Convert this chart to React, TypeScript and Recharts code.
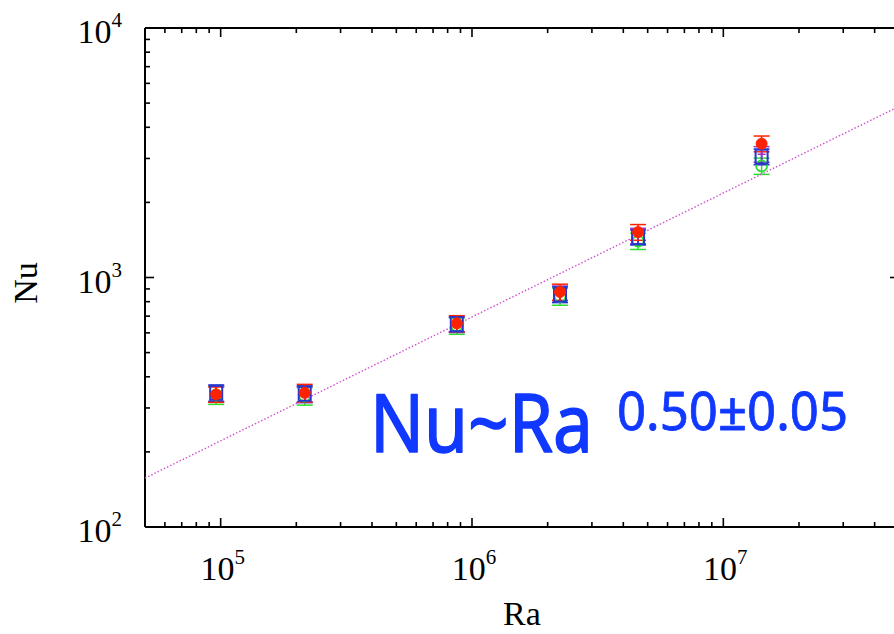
import React from 'react';
import { ErrorBar, Scatter, ScatterChart, XAxis, YAxis } from 'recharts';

const RA = [9.6e4, 2.16e5, 8.7e5, 2.24e6, 4.58e6, 1.42e7];
const NU_RED = [340, 345, 655, 875, 1520, 3440];
const NU_BLUE = [345, 342, 650, 855, 1450, 3050];
const NU_GREEN = [338, 335, 640, 840, 1400, 2800];
const NU_PURPLE = [342, 340, 648, 860, 1470, 3120];

const ERR_RED = [24, 28, 48, 65, 110, 250];
const ERR_BLUE = [26, 26, 45, 62, 100, 220];
const ERR_GREEN = [28, 27, 48, 66, 105, 210];
const ERR_PURPLE = [25, 25, 46, 64, 104, 225];

// Fit line Nu ~ Ra^0.5, end points read at the plot edges.
const FIT_RA = [5e4, 5e7];
const FIT_NU = [157, 4850];

const X_DOMAIN = [5e4, 5e7];
const Y_DOMAIN = [100, 10000];
const X_MAJOR = [1e5, 1e6, 1e7];
const Y_MAJOR = [1e2, 1e3, 1e4];
const MANTISSA = [2, 3, 4, 5, 6, 7, 8, 9];

const X_TICKS = [5e4, 6e4, 7e4, 8e4, 9e4, ...X_MAJOR, ...X_MAJOR.flatMap((d) => MANTISSA.map((m) => m * d))].filter(
  (v) => v >= X_DOMAIN[0] && v <= X_DOMAIN[1],
);
const Y_TICKS = [...Y_MAJOR, ...[1e2, 1e3].flatMap((d) => MANTISSA.map((m) => m * d))];

const RED = '#ff2200';
const BLUE = '#2636d0';
const GREEN = '#2edc2e';
const PURPLE = '#9a35c8';
const FIT = '#d050d0';
const NOTE = '#1038ff';
const SERIF = { fontFamily: "'Liberation Serif', 'Times New Roman', Times, serif" };
const SANS = { fontFamily: 'Noto Sans, DejaVu Sans, sans-serif' };

const rows = (nu: number[], err: number[]) => RA.map((ra, i) => ({ ra, nu: nu[i], err: err[i] }));
const fitRows = FIT_RA.map((ra, i) => ({ ra, nu: FIT_NU[i] }));

const isMajor = (v: number) => Math.abs(Math.log10(v) - Math.round(Math.log10(v))) < 1e-9;

function Pow({ x, y, exp, anchor }: { x: number; y: number; exp: number; anchor: 'middle' | 'end' }) {
  return (
    <text x={x} y={y} textAnchor={anchor} style={SERIF} fontSize={34} fill="#000">
      10
      <tspan dy={-16} fontSize={21}>
        {exp}
      </tspan>
    </text>
  );
}

function BottomTick({ x, y, payload }: any) {
  const major = isMajor(payload.value);
  return (
    <g>
      <line x1={x} x2={x} y1={y} y2={y - (major ? 9 : 5)} stroke="#000" strokeWidth={1.6} />
      {major && <Pow x={x + 2} y={y + 53} exp={Math.round(Math.log10(payload.value))} anchor="middle" />}
    </g>
  );
}

function TopTick({ x, y, payload }: any) {
  const major = isMajor(payload.value);
  return <line x1={x} x2={x} y1={y} y2={y + (major ? 9 : 5)} stroke="#000" strokeWidth={1.6} />;
}

function LeftTick({ x, y, payload }: any) {
  const major = isMajor(payload.value);
  return (
    <g>
      <line x1={x} x2={x + (major ? 9 : 5)} y1={y} y2={y} stroke="#000" strokeWidth={1.6} />
      {major && <Pow x={x - 23} y={y + 15} exp={Math.round(Math.log10(payload.value))} anchor="end" />}
    </g>
  );
}

function RightTick({ x, y, payload }: any) {
  const major = isMajor(payload.value);
  return <line x1={x} x2={x - (major ? 9 : 5)} y1={y} y2={y} stroke="#000" strokeWidth={1.6} />;
}

const redDot = (p: any) => <circle cx={p.cx} cy={p.cy} r={5.5} fill={RED} stroke={RED} strokeWidth={1} />;
const blueBox = (p: any) => (
  <rect x={p.cx - 6} y={p.cy - 7} width={12} height={14} fill="none" stroke={BLUE} strokeWidth={2} />
);
const greenRing = (p: any) => <circle cx={p.cx} cy={p.cy} r={5.5} fill="none" stroke={GREEN} strokeWidth={1.8} />;
const purpleCross = (p: any) => (
  <path
    d={`M${p.cx - 4},${p.cy} H${p.cx + 4} M${p.cx},${p.cy - 4} V${p.cy + 4}`}
    stroke={PURPLE}
    strokeWidth={1.5}
    fill="none"
  />
);
const noMark = () => <g />;

const axisLine = { stroke: '#000', strokeWidth: 2 };

export default function App() {
  return (
    <div style={{ position: 'absolute', left: 0, top: 0, width: 894, height: 634, overflow: 'hidden', background: '#fff' }}>
      <ScatterChart width={910} height={634} margin={{ top: 27, right: 10, bottom: 27, left: 0 }}>
        <XAxis
          xAxisId="b"
          dataKey="ra"
          type="number"
          scale="log"
          domain={X_DOMAIN}
          allowDataOverflow
          ticks={X_TICKS}
          interval={0}
          tickSize={0}
          tickMargin={0}
          tickLine={false}
          axisLine={axisLine}
          tick={<BottomTick />}
          height={80}
        />
        <XAxis
          xAxisId="t"
          orientation="top"
          dataKey="ra"
          type="number"
          scale="log"
          domain={X_DOMAIN}
          allowDataOverflow
          ticks={X_TICKS}
          interval={0}
          tickSize={0}
          tickMargin={0}
          tickLine={false}
          axisLine={axisLine}
          tick={<TopTick />}
          height={1}
        />
        <YAxis
          yAxisId="l"
          dataKey="nu"
          type="number"
          scale="log"
          domain={Y_DOMAIN}
          allowDataOverflow
          ticks={Y_TICKS}
          interval={0}
          tickSize={0}
          tickMargin={0}
          tickLine={false}
          axisLine={axisLine}
          tick={<LeftTick />}
          width={145}
        />
        <YAxis
          yAxisId="r"
          orientation="right"
          dataKey="nu"
          type="number"
          scale="log"
          domain={Y_DOMAIN}
          allowDataOverflow
          ticks={Y_TICKS}
          interval={0}
          tickSize={0}
          tickMargin={0}
          tickLine={false}
          axisLine={axisLine}
          tick={<RightTick />}
          width={1}
        />
        <Scatter
          xAxisId="b"
          yAxisId="l"
          data={fitRows}
          line={{ stroke: FIT, strokeWidth: 1.4, strokeDasharray: '1.5 2' }}
          shape={noMark}
          isAnimationActive={false}
        />
        <Scatter xAxisId="b" yAxisId="l" data={rows(NU_GREEN, ERR_GREEN)} shape={greenRing} isAnimationActive={false}>
          <ErrorBar dataKey="err" direction="y" width={8} stroke={GREEN} strokeWidth={1.5} isAnimationActive={false} />
        </Scatter>
        <Scatter xAxisId="b" yAxisId="l" data={rows(NU_PURPLE, ERR_PURPLE)} shape={purpleCross} isAnimationActive={false}>
          <ErrorBar dataKey="err" direction="y" width={8} stroke={PURPLE} strokeWidth={1.5} isAnimationActive={false} />
        </Scatter>
        <Scatter xAxisId="b" yAxisId="l" data={rows(NU_BLUE, ERR_BLUE)} shape={blueBox} isAnimationActive={false}>
          <ErrorBar dataKey="err" direction="y" width={8} stroke={BLUE} strokeWidth={1.5} isAnimationActive={false} />
        </Scatter>
        <Scatter xAxisId="b" yAxisId="l" data={rows(NU_RED, ERR_RED)} shape={redDot} isAnimationActive={false}>
          <ErrorBar dataKey="err" direction="y" width={8} stroke={RED} strokeWidth={1.5} isAnimationActive={false} />
        </Scatter>
      </ScatterChart>
      <svg width={894} height={634} style={{ position: 'absolute', left: 0, top: 0, pointerEvents: 'none' }}>
        <text x={522} y={625} textAnchor="middle" style={SERIF} fontSize={34} fill="#000">
          Ra
        </text>
        <text x={37} y={283} textAnchor="middle" style={SERIF} fontSize={34} fill="#000" transform="rotate(-90 37 283)">
          Nu
        </text>
        <text
          x={370}
          y={452}
          style={SANS}
          fontSize={81}
          fill={NOTE}
          stroke={NOTE}
          strokeWidth={1.5}
          strokeLinejoin="round"
          textLength={223}
          lengthAdjust="spacingAndGlyphs"
        >
          Nu~Ra
        </text>
        <text
          x={617}
          y={430}
          style={SANS}
          fontSize={53}
          fill={NOTE}
          stroke={NOTE}
          strokeWidth={0.8}
          strokeLinejoin="round"
          textLength={231}
          lengthAdjust="spacingAndGlyphs"
        >
          0.50±0.05
        </text>
      </svg>
    </div>
  );
}
